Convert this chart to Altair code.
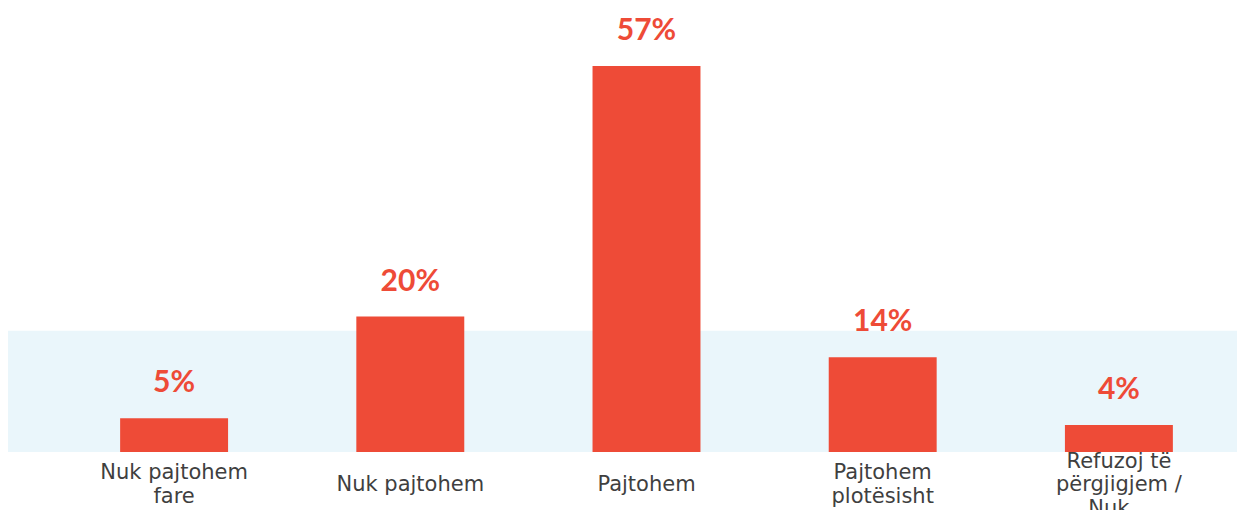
import altair as alt
import pandas as pd

categories = ["Nuk pajtohem|fare", "Nuk pajtohem", "Pajtohem", "Pajtohem|plotësisht", "Refuzoj të|përgjigjem /|Nuk..."]
values = [5, 20, 57, 14, 4]
labels = ["5%", "20%", "57%", "14%", "4%"]
band_top = 17.9

df = pd.DataFrame({"cat": categories, "value": values, "label": labels})
band_df = pd.DataFrame({"y0": [0], "y1": [band_top]})

RED = "#EE4B37"
W, H = 1181, 444
LH = 23.5

xenc = alt.X("cat:N", sort=categories, title=None, axis=None,
             scale=alt.Scale(paddingInner=0.543, paddingOuter=0.2715))
yscale = alt.Scale(domain=[0, 65.56], nice=False, zero=True)
yenc = alt.Y("value:Q", scale=yscale, axis=None)

band = alt.Chart(band_df).mark_rect(color="#EAF6FB").encode(
    x=alt.value(-48), x2=alt.value(W),
    y=alt.Y("y0:Q", scale=yscale, axis=None), y2="y1:Q")

bars = alt.Chart(df).mark_bar(color=RED).encode(x=xenc, y=yenc)

text = alt.Chart(df).mark_text(color=RED, font="Lato", fontWeight="bold",
                               fontSize=30, baseline="bottom", dy=-20).encode(
    x=xenc, y=yenc, text="label:N")

catlabels = alt.Chart(df).transform_calculate(
    nlines="length(split(datum.cat, '|'))",
    ly=f"{H + 33} - (datum.nlines - 1) * {LH / 2}",
).mark_text(font="DejaVu Sans", fontSize=21, color="#3f3f3f", lineBreak="|",
            lineHeight=LH, baseline="middle", align="center").encode(
    x=xenc, y=alt.Y("ly:Q", scale=None, axis=None), text="cat:N")

chart = alt.layer(band, bars, text, catlabels).properties(
    width=W, height=H,
    padding={"left": 48, "top": 0, "right": 0, "bottom": 58},
    autosize=alt.AutoSizeParams(type="none"),
).configure_view(stroke=None)

chart.save("out.html", embed_options={"renderer": "svg", "actions": False})
